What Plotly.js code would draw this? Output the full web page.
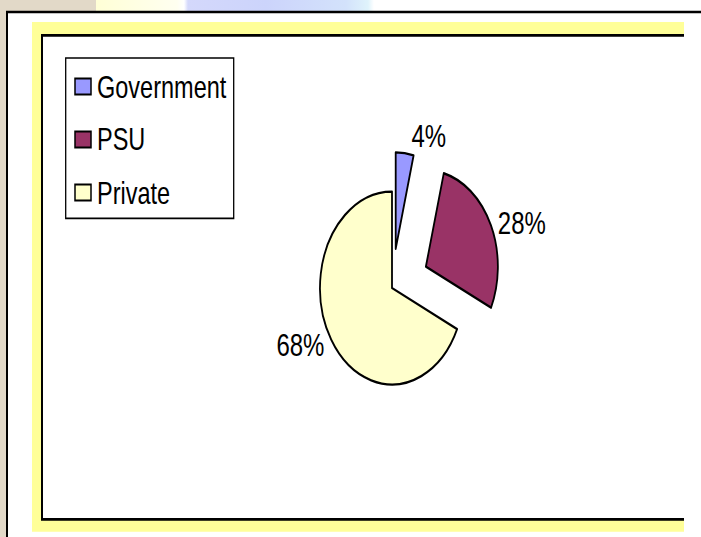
<!DOCTYPE html>
<html><head><meta charset="utf-8">
<script src="https://cdn.plot.ly/plotly-3.0.1.min.js"></script>
<style>
html,body{margin:0;padding:0;width:701px;height:537px;overflow:hidden;background:#e2d9c8;}
#strip{position:absolute;left:96px;top:0;width:605px;height:12px;background:linear-gradient(to right,#ffffd6 0px,#fffff0 81px,#ffffff 88px,#d4d8fb 92px,#ccd4fb 170px,#d3e2fb 250px,#dff3fb 272px,#ffffff 278px,#ffffff 605px);}
#chart{position:absolute;left:0;top:0;width:701px;height:401px;transform:scaleY(1.33915);transform-origin:0 0;}
</style></head><body>
<div id="strip"></div>
<div id="chart"></div>
<script>
// ---- data ----
const labels = ['Government', 'PSU', 'Private'];
const values = [4, 28, 68];

// ---- styles ----
const colors = ['#9999ff', '#993366', '#ffffcc'];
const pulls = [0.41, 0.52, 0];
const FONT = 'Liberation Sans, Arial, sans-serif';

// page geometry (final picture pixels); chart is drawn 701x401 and stretched vertically to 537
const W = 701, H = 401, FH = 537, K = FH / H;
const px = X => X / W;
const py = Y => 1 - Y / FH;

// pie placement
const R = 72, CX = 392, CY = 288;
const maxPull = Math.max(...pulls);
const half = R * (1 + maxPull);
const cyPre = CY / K;
const domain = {
  x: [(CX - half) / W, (CX + half) / W],
  y: [(H - cyPre - half) / H, (H - cyPre + half) / H]
};

const trace = {
  type: 'pie',
  labels: labels,
  values: values,
  sort: false,
  direction: 'clockwise',
  rotation: 0,
  pull: pulls,
  marker: {colors: colors, line: {color: '#000000', width: 1.8}},
  textinfo: 'percent',
  textposition: 'outside',
  textfont: {family: FONT, size: 24, color: '#000000'},
  domain: domain,
  showlegend: false,
  hoverinfo: 'skip'
};

const shapes = [
  {type: 'rect', xref: 'paper', yref: 'paper', layer: 'below', x0: px(7), x1: px(760), y0: py(12), y1: py(620),
   fillcolor: '#ffffff', line: {color: '#000000', width: 2}},
  {type: 'rect', xref: 'paper', yref: 'paper', layer: 'below', x0: px(32), x1: px(684), y0: py(22), y1: py(531.7),
   fillcolor: '#ffff99', line: {width: 0}},
  {type: 'rect', xref: 'paper', yref: 'paper', layer: 'below', x0: px(42), x1: px(684), y0: py(35.3), y1: py(519.3),
   fillcolor: '#ffffff', line: {width: 0}},
  {type: 'path', xref: 'paper', yref: 'paper', layer: 'below',
   path: `M ${px(684)} ${py(35.3)} L ${px(42)} ${py(35.3)} L ${px(42)} ${py(519.3)} L ${px(684)} ${py(519.3)}`,
   line: {color: '#000000', width: 2}},
  // legend box
  {type: 'rect', xref: 'paper', yref: 'paper', layer: 'below', x0: px(65.7), x1: px(233.7), y0: py(58), y1: py(218.3),
   fillcolor: '#ffffff', line: {color: '#000000', width: 1.3}}
];

const legendCenters = [86.5, 139.5, 192.5];
const annotations = [];
labels.forEach((lab, i) => {
  const c = legendCenters[i];
  shapes.push({type: 'rect', xref: 'paper', yref: 'paper', x0: px(75), x1: px(91), y0: py(c - 8), y1: py(c + 8),
    fillcolor: colors[i], line: {color: '#000000', width: 1.5}});
  annotations.push({xref: 'paper', yref: 'paper', x: px(95), y: py(c), xanchor: 'left', yanchor: 'middle',
    text: lab, showarrow: false, font: {family: FONT, size: 23.5, color: '#000000'}});
});

const layout = {
  width: W, height: H,
  margin: {l: 0, r: 0, t: 0, b: 0, pad: 0},
  paper_bgcolor: 'rgba(0,0,0,0)',
  plot_bgcolor: 'rgba(0,0,0,0)',
  showlegend: false,
  xaxis: {visible: false}, yaxis: {visible: false},
  shapes: shapes,
  annotations: annotations,
  font: {family: FONT}
};

Plotly.newPlot('chart', [trace], layout, {displayModeBar: false, staticPlot: true});
</script>
</body></html>
